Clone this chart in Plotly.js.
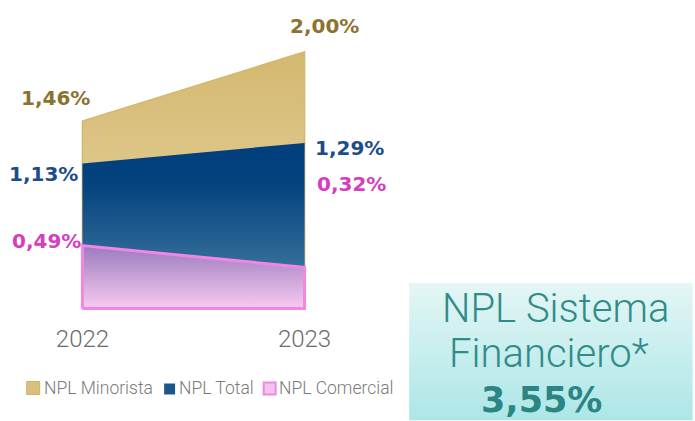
<!DOCTYPE html>
<html>
<head>
<meta charset="utf-8">
<script src="https://cdn.plot.ly/plotly-3.0.1.min.js"></script>
<style>
  html, body { margin: 0; padding: 0; background: #ffffff; }
  #chart { width: 695px; height: 421px; }
</style>
</head>
<body>
<div id="chart"></div>
<script>
// ---- data ----
const years = [2022, 2023];
const minorista = [1.46, 2.00];
const total = [1.13, 1.29];
const comercial = [0.49, 0.32];
const seriesNames = ['NPL Minorista', 'NPL Total', 'NPL Comercial'];
const sistemaTitle = ['NPL Sistema', 'Financiero*'];
const sistemaValue = 3.55;

// ---- helpers ----
const fmt = v => v.toFixed(2).replace('.', ',') + '%';
function polygon(vals) {
  return {
    x: [years[0], years[0], years[1], years[1], years[0]],
    y: [0, vals[0], vals[1], 0, 0]
  };
}

const W = 695, H = 421;
const margin = { l: 77.5, r: 385.5, t: 48, b: 109.6, pad: 0 };
const PW = W - margin.l - margin.r;
const PH = H - margin.t - margin.b;
const px = x => (x - margin.l) / PW;
const py = y => (H - margin.b - y) / PH;

const pMin = polygon(minorista);
const pTot = polygon(total);
const pCom = polygon(comercial);

const traces = [
  {
    type: 'scatter', mode: 'lines', name: seriesNames[0],
    x: pMin.x, y: pMin.y, fill: 'toself',
    line: { color: '#d3b86e', width: 1.5 },
    fillgradient: { type: 'vertical', colorscale: [[0, '#ead8a8'], [1, '#d4b870']] },
    hoverinfo: 'skip', showlegend: false
  },
  {
    type: 'scatter', mode: 'lines', name: seriesNames[1],
    x: pTot.x, y: pTot.y, fill: 'toself',
    line: { color: 'rgba(0,0,0,0)', width: 0 },
    fillgradient: { type: 'vertical', colorscale: [[0, '#4c89a7'], [0.45, '#215c8f'], [0.75, '#05437f'], [1, '#003e7c']] },
    hoverinfo: 'skip', showlegend: false
  },
  {
    type: 'scatter', mode: 'lines', name: seriesNames[2],
    x: pCom.x, y: pCom.y, fill: 'toself',
    line: { color: '#f386e4', width: 3 },
    fillgradient: { type: 'vertical', colorscale: [[0, '#f9caf2'], [1, '#9a7bbd']] },
    hoverinfo: 'skip', showlegend: false
  }
];

const labelFont = (c) => ({ family: 'DejaVu Sans', size: 20, color: c, weight: 700 });
const gold = '#8c7231', blue = '#1b4d89', pink = '#d43fbf';

function lab(x, y, c, xs, ys) {
  return { x: x, y: y, xref: 'x', yref: 'y', text: fmt(y), showarrow: false,
           xanchor: 'center', yanchor: 'middle', xshift: xs, yshift: ys, font: labelFont(c) };
}

const legendFont = { family: 'Roboto', size: 17.5, color: '#7a7a7a', weight: 300 };
const boxFont = { family: 'Roboto', size: 40, color: '#2f8c89', weight: 300 };

const annotations = [
  lab(years[0], minorista[0], gold, -27, 23),
  lab(years[1], minorista[1], gold, 20, 26),
  lab(years[0], total[0], blue, -39, -11),
  lab(years[1], total[1], blue, 45, -5),
  lab(years[0], comercial[0], pink, -36, 5),
  lab(years[1], comercial[1], pink, 47, 83),
  // legend texts
  { xref: 'paper', yref: 'paper', x: px(41), y: py(389), text: seriesNames[0], showarrow: false,
    xanchor: 'left', yanchor: 'middle', font: legendFont },
  { xref: 'paper', yref: 'paper', x: px(177), y: py(389), text: seriesNames[1], showarrow: false,
    xanchor: 'left', yanchor: 'middle', font: legendFont },
  { xref: 'paper', yref: 'paper', x: px(277), y: py(389), text: seriesNames[2], showarrow: false,
    xanchor: 'left', yanchor: 'middle', font: legendFont },
  // box texts
  { xref: 'paper', yref: 'paper', x: px(557), y: py(309), text: sistemaTitle[0], showarrow: false,
    xanchor: 'center', yanchor: 'middle', font: boxFont },
  { xref: 'paper', yref: 'paper', x: px(551), y: py(354), text: sistemaTitle[1], showarrow: false,
    xanchor: 'center', yanchor: 'middle', font: boxFont },
  { xref: 'paper', yref: 'paper', x: px(543), y: py(401), text: fmt(sistemaValue), showarrow: false,
    xanchor: 'center', yanchor: 'middle', font: { family: 'DejaVu Sans', size: 35, color: '#2a8583', weight: 700 } }
];

const shapes = [
  { type: 'rect', xref: 'paper', yref: 'paper', x0: px(26), x1: px(39), y0: py(395), y1: py(382),
    fillcolor: '#d8c07e', line: { color: '#cdb16b', width: 1 } },
  { type: 'rect', xref: 'paper', yref: 'paper', x0: px(164), x1: px(175), y0: py(395), y1: py(384),
    fillcolor: '#1c568c', line: { width: 0 } },
  { type: 'rect', xref: 'paper', yref: 'paper', x0: px(264), x1: px(276), y0: py(395), y1: py(383),
    fillcolor: '#f3c3ee', line: { color: '#f386e4', width: 2 } }
];

const svg = "<svg xmlns='http://www.w3.org/2000/svg' width='285' height='138' preserveAspectRatio='none'>" +
  "<defs><linearGradient id='g' x1='0' y1='0' x2='0' y2='1'>" +
  "<stop offset='0' stop-color='#e4f6f5'/><stop offset='1' stop-color='#ade6e7'/></linearGradient></defs>" +
  "<rect width='285' height='138' fill='url(#g)'/></svg>";

const images = [{
  source: 'data:image/svg+xml;charset=utf-8,' + encodeURIComponent(svg),
  xref: 'paper', yref: 'paper', x: px(410), y: py(283),
  sizex: (695 - 410) / PW, sizey: (421 - 283) / PH,
  xanchor: 'left', yanchor: 'top', sizing: 'stretch', layer: 'below'
}];

const layout = {
  width: W, height: H, margin: margin,
  paper_bgcolor: '#ffffff', plot_bgcolor: 'rgba(0,0,0,0)',
  showlegend: false,
  xaxis: {
    range: [years[0] - 0.02, years[1] + 0.02],
    tickvals: years, ticktext: years.map(String),
    showgrid: false, zeroline: false, showline: false, ticks: '',
    ticklabelstandoff: 11,
    tickfont: { family: 'Roboto', size: 24, color: '#6b6b6b', weight: 300 },
    fixedrange: true
  },
  yaxis: {
    range: [-0.02, 2.03], visible: false, showgrid: false, zeroline: false, fixedrange: true
  },
  annotations: annotations,
  shapes: shapes,
  images: images
};

Plotly.newPlot('chart', traces, layout, { displayModeBar: false, staticPlot: true });
</script>
</body>
</html>
